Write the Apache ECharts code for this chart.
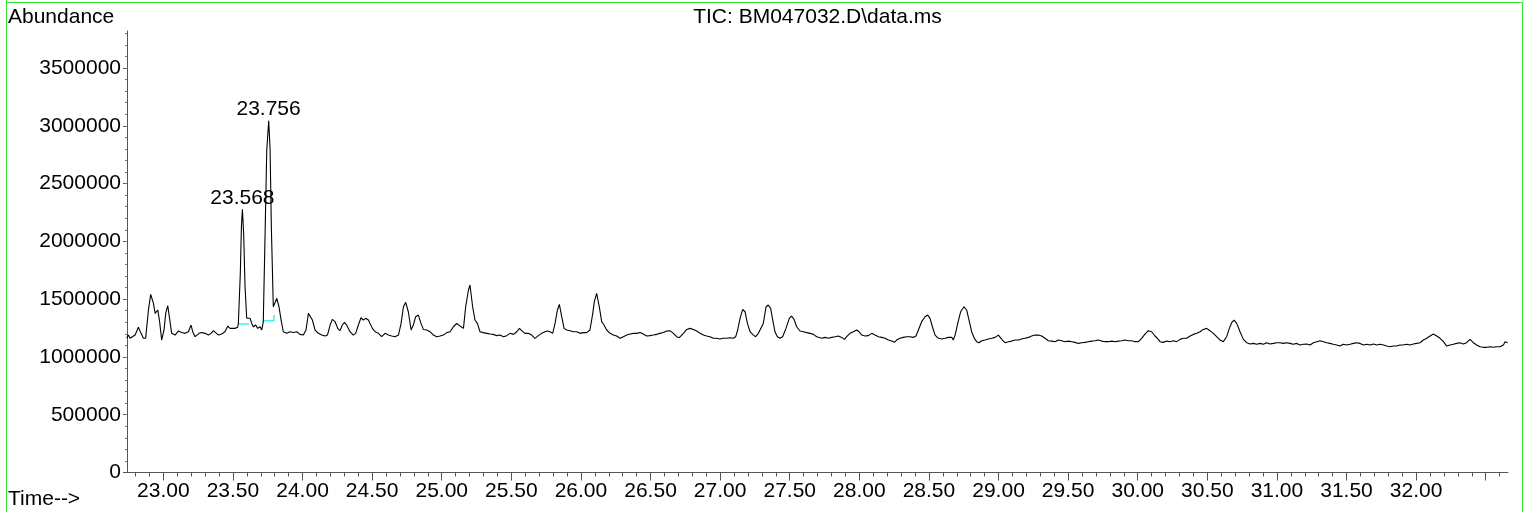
<!DOCTYPE html>
<html>
<head>
<meta charset="utf-8">
<title>TIC: BM047032.D\data.ms</title>
<script src="https://cdn.jsdelivr.net/npm/echarts@6/dist/echarts.min.js"></script>
<style>
  html, body { margin: 0; padding: 0; background: #fff; }
  #chart { width: 1526px; height: 512px; }
</style>
</head>
<body>
<div id="chart"></div>
<script>
// retention time (min)
var time = [
  22.737, 22.749, 22.761, 22.773, 22.797, 22.821, 22.840, 22.857, 22.873, 22.893,
  22.909, 22.929, 22.941, 22.952, 22.960, 22.972, 22.988, 23.005, 23.017, 23.032,
  23.043, 23.060, 23.084, 23.108, 23.132, 23.156, 23.180, 23.199, 23.211, 23.228,
  23.240, 23.257, 23.276, 23.300, 23.324, 23.343, 23.360, 23.376, 23.396, 23.407,
  23.419, 23.443, 23.463, 23.479, 23.491, 23.515, 23.534, 23.539, 23.553, 23.561,
  23.568, 23.577, 23.587, 23.599, 23.623, 23.635, 23.647, 23.664, 23.678, 23.695,
  23.707, 23.718, 23.731, 23.743, 23.757, 23.767, 23.776, 23.790, 23.815, 23.831,
  23.846, 23.862, 23.886, 23.910, 23.934, 23.958, 23.982, 24.006, 24.025, 24.042,
  24.054, 24.071, 24.090, 24.114, 24.138, 24.162, 24.179, 24.198, 24.214, 24.234,
  24.253, 24.269, 24.286, 24.301, 24.317, 24.341, 24.365, 24.382, 24.401, 24.420,
  24.437, 24.454, 24.473, 24.485, 24.502, 24.521, 24.545, 24.569, 24.593, 24.617,
  24.641, 24.665, 24.689, 24.708, 24.725, 24.741, 24.760, 24.780, 24.796, 24.813,
  24.832, 24.851, 24.868, 24.892, 24.916, 24.940, 24.964, 24.988, 25.012, 25.036,
  25.060, 25.084, 25.108, 25.120, 25.132, 25.144, 25.156, 25.172, 25.192, 25.203,
  25.222, 25.239, 25.256, 25.275, 25.299, 25.323, 25.347, 25.371, 25.395, 25.419,
  25.443, 25.467, 25.491, 25.515, 25.539, 25.558, 25.574, 25.598, 25.622, 25.646,
  25.670, 25.694, 25.718, 25.742, 25.759, 25.778, 25.797, 25.814, 25.831, 25.845,
  25.862, 25.879, 25.898, 25.922, 25.946, 25.970, 25.993, 26.017, 26.041, 26.065,
  26.085, 26.096, 26.113, 26.132, 26.149, 26.166, 26.185, 26.209, 26.233, 26.257,
  26.281, 26.305, 26.329, 26.353, 26.377, 26.401, 26.425, 26.448, 26.472, 26.496,
  26.520, 26.544, 26.568, 26.592, 26.616, 26.640, 26.664, 26.688, 26.707, 26.736,
  26.760, 26.784, 26.808, 26.832, 26.856, 26.880, 26.903, 26.927, 26.951, 26.975,
  26.999, 27.023, 27.047, 27.071, 27.095, 27.112, 27.126, 27.143, 27.162, 27.179,
  27.196, 27.215, 27.239, 27.255, 27.275, 27.310, 27.330, 27.346, 27.363, 27.378,
  27.394, 27.411, 27.430, 27.449, 27.473, 27.497, 27.514, 27.531, 27.550, 27.574,
  27.598, 27.622, 27.646, 27.670, 27.694, 27.706, 27.730, 27.754, 27.778, 27.802,
  27.826, 27.849, 27.873, 27.893, 27.909, 27.933, 27.957, 27.981, 27.998, 28.017,
  28.041, 28.065, 28.089, 28.113, 28.137, 28.161, 28.185, 28.209, 28.233, 28.252,
  28.268, 28.292, 28.316, 28.340, 28.364, 28.388, 28.407, 28.424, 28.448, 28.472,
  28.491, 28.508, 28.525, 28.544, 28.568, 28.592, 28.616, 28.640, 28.664, 28.675,
  28.688, 28.707, 28.728, 28.752, 28.771, 28.788, 28.807, 28.826, 28.843, 28.860,
  28.879, 28.903, 28.927, 28.951, 28.975, 28.999, 29.011, 29.028, 29.047, 29.071,
  29.095, 29.119, 29.143, 29.166, 29.190, 29.214, 29.238, 29.262, 29.286, 29.310,
  29.334, 29.358, 29.382, 29.406, 29.430, 29.454, 29.478, 29.502, 29.526, 29.550,
  29.574, 29.597, 29.621, 29.645, 29.669, 29.693, 29.717, 29.741, 29.765, 29.789,
  29.813, 29.837, 29.861, 29.885, 29.909, 29.933, 29.957, 29.981, 30.005, 30.028,
  30.052, 30.076, 30.100, 30.124, 30.148, 30.160, 30.184, 30.208, 30.232, 30.256,
  30.280, 30.304, 30.328, 30.352, 30.376, 30.400, 30.424, 30.448, 30.471, 30.495,
  30.519, 30.543, 30.567, 30.591, 30.615, 30.639, 30.658, 30.675, 30.692, 30.711,
  30.735, 30.759, 30.783, 30.807, 30.831, 30.855, 30.879, 30.903, 30.926, 30.950,
  30.974, 30.998, 31.022, 31.046, 31.070, 31.094, 31.118, 31.142, 31.166, 31.190,
  31.214, 31.238, 31.262, 31.286, 31.310, 31.334, 31.358, 31.381, 31.405, 31.429,
  31.453, 31.477, 31.501, 31.525, 31.549, 31.573, 31.597, 31.621, 31.645, 31.669,
  31.693, 31.717, 31.741, 31.765, 31.789, 31.813, 31.836, 31.860, 31.884, 31.908,
  31.932, 31.956, 31.980, 32.004, 32.028, 32.052, 32.076, 32.100, 32.124, 32.148,
  32.172, 32.196, 32.220, 32.244, 32.267, 32.291, 32.315, 32.339, 32.363, 32.387,
  32.411, 32.435, 32.459, 32.483, 32.507, 32.531, 32.555, 32.579, 32.603, 32.627,
  32.639, 32.651, 32.658
];

// total ion current abundance at each time
var abundance = [
  1161000, 1189000, 1161000, 1161000, 1189000, 1256000, 1204000, 1161000, 1161000, 1406000,
  1541000, 1463000, 1377000, 1391000, 1406000, 1319000, 1146000, 1233000, 1377000, 1443000,
  1348000, 1204000, 1189000, 1224000, 1212000, 1204000, 1218000, 1276000, 1218000, 1175000,
  1161000, 1204000, 1212000, 1204000, 1189000, 1204000, 1227000, 1210000, 1189000, 1204000,
  1198000, 1218000, 1267000, 1247000, 1256000, 1247000, 1256000, 1291000, 1723000, 2126000,
  2277000, 2069000, 1607000, 1334000, 1334000, 1290000, 1261000, 1276000, 1247000, 1261000,
  1233000, 1304000, 2069000, 2790000, 3043000, 2790000, 2126000, 1434000, 1507000, 1434000,
  1319000, 1218000, 1204000, 1218000, 1212000, 1218000, 1195000, 1189000, 1233000, 1377000,
  1383000, 1319000, 1233000, 1204000, 1189000, 1181000, 1189000, 1276000, 1325000, 1305000,
  1247000, 1227000, 1276000, 1299000, 1276000, 1218000, 1189000, 1204000, 1276000, 1339000,
  1319000, 1334000, 1319000, 1328000, 1247000, 1218000, 1204000, 1175000, 1204000, 1189000,
  1181000, 1175000, 1189000, 1290000, 1434000, 1472000, 1391000, 1233000, 1276000, 1348000,
  1362000, 1290000, 1238000, 1233000, 1218000, 1189000, 1175000, 1181000, 1189000, 1210000,
  1218000, 1261000, 1290000, 1276000, 1267000, 1261000, 1247000, 1434000, 1579000, 1622000,
  1434000, 1319000, 1290000, 1218000, 1210000, 1204000, 1198000, 1195000, 1184000, 1189000,
  1175000, 1184000, 1204000, 1195000, 1218000, 1247000, 1227000, 1204000, 1204000, 1189000,
  1161000, 1184000, 1204000, 1218000, 1224000, 1218000, 1204000, 1290000, 1406000, 1455000,
  1348000, 1247000, 1233000, 1227000, 1218000, 1218000, 1204000, 1210000, 1210000, 1233000,
  1377000, 1478000, 1550000, 1434000, 1305000, 1276000, 1233000, 1204000, 1189000, 1181000,
  1161000, 1175000, 1189000, 1198000, 1204000, 1204000, 1212000, 1198000, 1181000, 1184000,
  1189000, 1195000, 1204000, 1212000, 1224000, 1227000, 1204000, 1175000, 1166000, 1204000,
  1238000, 1247000, 1238000, 1224000, 1204000, 1189000, 1181000, 1175000, 1161000, 1161000,
  1155000, 1161000, 1161000, 1166000, 1161000, 1175000, 1233000, 1334000, 1411000, 1391000,
  1290000, 1218000, 1189000, 1175000, 1204000, 1290000, 1434000, 1449000, 1420000, 1319000,
  1218000, 1175000, 1161000, 1175000, 1247000, 1334000, 1354000, 1325000, 1261000, 1224000,
  1218000, 1210000, 1204000, 1195000, 1175000, 1161000, 1161000, 1169000, 1161000, 1169000,
  1175000, 1181000, 1169000, 1152000, 1175000, 1204000, 1218000, 1233000, 1218000, 1189000,
  1181000, 1184000, 1204000, 1189000, 1175000, 1169000, 1161000, 1146000, 1137000, 1126000,
  1146000, 1161000, 1169000, 1175000, 1175000, 1169000, 1181000, 1233000, 1305000, 1348000,
  1362000, 1334000, 1261000, 1189000, 1161000, 1155000, 1161000, 1169000, 1169000, 1146000,
  1189000, 1290000, 1391000, 1434000, 1406000, 1319000, 1218000, 1161000, 1132000, 1123000,
  1140000, 1146000, 1155000, 1161000, 1169000, 1189000, 1175000, 1146000, 1123000, 1132000,
  1137000, 1146000, 1146000, 1155000, 1161000, 1169000, 1181000, 1189000, 1189000, 1181000,
  1161000, 1140000, 1137000, 1132000, 1146000, 1140000, 1132000, 1137000, 1132000, 1126000,
  1117000, 1123000, 1126000, 1132000, 1137000, 1140000, 1146000, 1137000, 1132000, 1132000,
  1137000, 1132000, 1137000, 1140000, 1146000, 1140000, 1140000, 1132000, 1132000, 1161000,
  1198000, 1227000, 1218000, 1181000, 1152000, 1132000, 1126000, 1137000, 1132000, 1140000,
  1132000, 1152000, 1161000, 1161000, 1181000, 1195000, 1204000, 1218000, 1238000, 1247000,
  1227000, 1204000, 1175000, 1146000, 1132000, 1175000, 1247000, 1296000, 1319000, 1290000,
  1218000, 1152000, 1123000, 1112000, 1117000, 1109000, 1117000, 1109000, 1123000, 1112000,
  1117000, 1123000, 1123000, 1117000, 1123000, 1117000, 1109000, 1117000, 1103000, 1109000,
  1112000, 1103000, 1123000, 1132000, 1140000, 1132000, 1123000, 1117000, 1109000, 1103000,
  1094000, 1109000, 1103000, 1109000, 1117000, 1123000, 1117000, 1103000, 1109000, 1103000,
  1112000, 1103000, 1109000, 1103000, 1094000, 1088000, 1094000, 1094000, 1103000, 1103000,
  1109000, 1103000, 1112000, 1117000, 1123000, 1146000, 1161000, 1181000, 1198000, 1181000,
  1161000, 1132000, 1094000, 1103000, 1109000, 1117000, 1123000, 1112000, 1123000, 1152000,
  1123000, 1103000, 1088000, 1083000, 1083000, 1088000, 1083000, 1088000, 1088000, 1103000,
  1132000, 1117000, 1123000
];

// labelled peaks
var peakTimes = [23.568, 23.756];
var peakHeights = [2277000, 3043000];

// integration baselines (cyan) under the two labelled peaks
var baseline1Times = [23.539, 23.616];
var baseline1Values = [1285000, 1285000];
var baseline2Times = [23.718, 23.795, 23.795];
var baseline2Values = [1313000, 1313000, 1362000];

// axis ticks / labels
var xLabels = [23.0, 23.5, 24.0, 24.5, 25.0, 25.5, 26.0, 26.5, 27.0, 27.5,
               28.0, 28.5, 29.0, 29.5, 30.0, 30.5, 31.0, 31.5, 32.0];
var xMajorTicks = xLabels.concat([32.5]);
var yLabels = [0, 500000, 1000000, 1500000, 2000000, 2500000, 3000000, 3500000];

var xMin = 22.739, xMax = 32.660;
var yMin = 0, yMax = 3820000;

var xMinorTicks = [];
for (var i = 228; i <= 326; i++) xMinorTicks.push(i / 10);
var yMinorTicks = [];
for (var j = 1; j <= 38; j++) yMinorTicks.push(j * 100000);

var FONT = 'Liberation Sans';

function zip(a, b) {
    var out = [];
    for (var k = 0; k < a.length; k++) out.push([a[k], b[k]]);
    return out;
}

var chart = echarts.init(document.getElementById('chart'), null, { renderer: 'canvas' });

var option = {
    animation: false,
    backgroundColor: '#fff',
    textStyle: { fontFamily: FONT },
    grid: { left: 127, right: 18, top: 31, bottom: 39.5, containLabel: false },
    xAxis: [{
        type: 'value', min: xMin, max: xMax, position: 'bottom',
        splitLine: { show: false },
        axisLine: { show: true, lineStyle: { color: '#555', width: 1 } },
        axisTick: { show: true, customValues: xMajorTicks, length: 8, lineStyle: { color: '#555' } },
        axisLabel: {
            show: true, customValues: xLabels, margin: 8,
            fontSize: 21, color: '#000', fontFamily: FONT,
            formatter: function (v) { return v.toFixed(2); }
        }
    }, {
        type: 'value', min: xMin, max: xMax, position: 'bottom',
        splitLine: { show: false },
        axisLine: { show: false },
        axisTick: { show: true, customValues: xMinorTicks, length: 4, lineStyle: { color: '#555' } },
        axisLabel: { show: false }
    }],
    yAxis: [{
        type: 'value', min: yMin, max: yMax, position: 'left',
        splitLine: { show: false },
        axisLine: { show: true, lineStyle: { color: '#555', width: 1 } },
        axisTick: { show: true, customValues: yLabels, length: 4, lineStyle: { color: '#555' } },
        axisLabel: {
            show: true, customValues: yLabels, margin: 6,
            fontSize: 21, color: '#000', fontFamily: FONT,
            formatter: function (v) { return String(v); }
        }
    }, {
        type: 'value', min: yMin, max: yMax, position: 'left', offset: 0,
        splitLine: { show: false },
        axisLine: { show: false },
        axisTick: { show: true, customValues: yMinorTicks, length: 2, lineStyle: { color: '#777' } },
        axisLabel: { show: false }
    }],
    series: [{
        name: 'TIC',
        type: 'line',
        xAxisIndex: 0, yAxisIndex: 0,
        data: zip(time, abundance),
        showSymbol: false,
        symbol: 'none',
        lineStyle: { color: '#000', width: 1.1 },
        z: 3
    }, {
        name: 'baseline1',
        type: 'line',
        data: zip(baseline1Times, baseline1Values),
        symbol: 'none',
        lineStyle: { color: '#3ff0f0', width: 1.5 },
        z: 2
    }, {
        name: 'baseline2',
        type: 'line',
        data: zip(baseline2Times, baseline2Values),
        symbol: 'none',
        lineStyle: { color: '#3ff0f0', width: 1.5 },
        z: 2
    }, {
        name: 'peaks',
        type: 'scatter',
        data: zip(peakTimes, peakHeights),
        symbolSize: 0,
        itemStyle: { opacity: 1 },
        label: {
            show: true, position: 'top', distance: 1, opacity: 1,
            fontSize: 21, color: '#000', fontFamily: FONT,
            formatter: function (p) { return p.value[0].toFixed(3); }
        },
        z: 4
    }],
    graphic: [{
        type: 'rect', silent: true,
        shape: { x: 6.5, y: 2.5, width: 1516, height: 530 },
        style: { fill: 'none', stroke: '#2fe82f', lineWidth: 1 }
    }, {
        type: 'line', silent: true,
        shape: { x1: 6.5, y1: 0, x2: 6.5, y2: 3 },
        style: { stroke: '#2fe82f', lineWidth: 1 }
    }, {
        type: 'text', x: 8, y: 17, silent: true,
        style: {
            text: 'Abundance', fill: '#000', font: '21px "Liberation Sans"',
            textAlign: 'left', textVerticalAlign: 'middle', align: 'left', verticalAlign: 'middle'
        }
    }, {
        type: 'text', x: 8, y: 499, silent: true,
        style: {
            text: 'Time-->', fill: '#000', font: '21px "Liberation Sans"',
            textAlign: 'left', textVerticalAlign: 'middle', align: 'left', verticalAlign: 'middle'
        }
    }, {
        type: 'text', x: 817.5, y: 17, silent: true,
        style: {
            text: 'TIC: BM047032.D\\data.ms', fill: '#000', font: '21px "Liberation Sans"',
            textAlign: 'center', textVerticalAlign: 'middle', align: 'center', verticalAlign: 'middle'
        }
    }]
};

chart.setOption(option);
</script>
</body>
</html>
